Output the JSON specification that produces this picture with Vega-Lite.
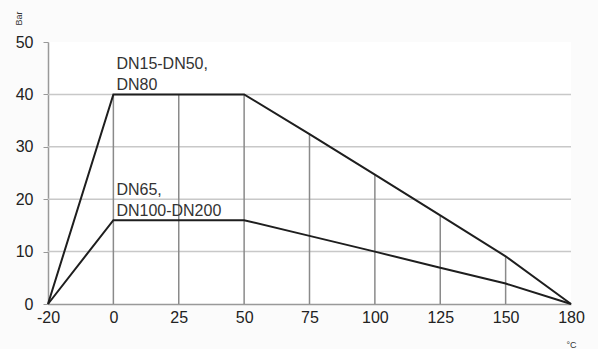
{
  "$schema": "https://vega.github.io/schema/vega-lite/v6.json",
  "width": 523,
  "height": 262,
  "autosize": "none",
  "padding": {"left": 48, "top": 42, "right": 27, "bottom": 45},
  "background": "#fbfbfb",
  "config": {
    "view": {"fill": "white", "stroke": null},
    "font": "Liberation Sans",
    "text": {"font": "Liberation Sans"}
  },
  "datasets": {
    "curves": [
      {"series": "DN15-DN50, DN80", "t": -20, "p": 0},
      {"series": "DN15-DN50, DN80", "t": 0, "p": 40},
      {"series": "DN15-DN50, DN80", "t": 25, "p": 40},
      {"series": "DN15-DN50, DN80", "t": 50, "p": 40},
      {"series": "DN15-DN50, DN80", "t": 75, "p": 32.4},
      {"series": "DN15-DN50, DN80", "t": 100, "p": 24.7},
      {"series": "DN15-DN50, DN80", "t": 125, "p": 16.9},
      {"series": "DN15-DN50, DN80", "t": 150, "p": 9.1},
      {"series": "DN15-DN50, DN80", "t": 180, "p": 0},
      {"series": "DN65, DN100-DN200", "t": -20, "p": 0},
      {"series": "DN65, DN100-DN200", "t": 0, "p": 16},
      {"series": "DN65, DN100-DN200", "t": 25, "p": 16},
      {"series": "DN65, DN100-DN200", "t": 50, "p": 16},
      {"series": "DN65, DN100-DN200", "t": 75, "p": 13},
      {"series": "DN65, DN100-DN200", "t": 100, "p": 10},
      {"series": "DN65, DN100-DN200", "t": 125, "p": 6.9},
      {"series": "DN65, DN100-DN200", "t": 150, "p": 3.9},
      {"series": "DN65, DN100-DN200", "t": 180, "p": 0}
    ],
    "labels": [
      {"t": 0, "p": 40, "label": "DN15-DN50,\nDN80"},
      {"t": 0, "p": 16, "label": "DN65,\nDN100-DN200"}
    ],
    "hgrid": [{"g": 10}, {"g": 20}, {"g": 30}, {"g": 40}]
  },
  "layer": [
    {
      "data": {"name": "hgrid"},
      "mark": {"type": "rule", "color": "#c8c8c8", "strokeWidth": 1.5},
      "encoding": {
        "y": {"field": "g", "type": "quantitative"}
      }
    },
    {
      "data": {"name": "curves"},
      "transform": [
        {"filter": "datum.series == 'DN15-DN50, DN80' && datum.t >= 0 && datum.t <= 150"}
      ],
      "mark": {"type": "rule", "color": "#8a8a8a", "strokeWidth": 1.5},
      "encoding": {
        "x": {"field": "t", "type": "ordinal"},
        "y": {"field": "p", "type": "quantitative"},
        "y2": {"datum": 0}
      }
    },
    {
      "data": {"name": "curves"},
      "mark": {"type": "line", "color": "#1e1e1e", "strokeWidth": 2},
      "encoding": {
        "x": {
          "field": "t",
          "type": "ordinal",
          "scale": {"type": "point", "padding": 0, "domain": [-20, 0, 25, 50, 75, 100, 125, 150, 180]},
          "axis": {
            "title": "°C",
            "titleFontSize": 9,
            "titleFontWeight": "normal",
            "titleColor": "#333",
            "titleX": 523,
            "titleY": 40,
            "titleBaseline": "middle",
            "titleAlign": "center",
            "labelAngle": 0,
            "labelAlign": "center",
            "labelFontSize": 16,
            "labelColor": "#222",
            "labelPadding": 13,
            "ticks": false,
            "domainColor": "#999",
            "domainWidth": 1.5,
            "grid": false
          }
        },
        "y": {
          "field": "p",
          "type": "quantitative",
          "scale": {"domain": [0, 50], "nice": false},
          "axis": {
            "values": [0, 10, 20, 30, 40, 50],
            "title": "Bar",
            "titleFontSize": 9,
            "titleFontWeight": "normal",
            "titleColor": "#333",
            "titleAngle": 270,
            "titleX": -30,
            "titleY": -24,
            "titleAlign": "center",
            "titleBaseline": "middle",
            "labelFontSize": 16,
            "labelColor": "#222",
            "labelPadding": 10,
            "tickSize": 5,
            "tickColor": "#999",
            "domainColor": "#999",
            "domainWidth": 1.5,
            "grid": false
          }
        },
        "detail": {"field": "series"}
      }
    },
    {
      "data": {"name": "labels"},
      "mark": {
        "type": "text",
        "align": "left",
        "baseline": "alphabetic",
        "dx": 3,
        "dy": -25,
        "fontSize": 16,
        "lineHeight": 21,
        "lineBreak": "\n",
        "color": "#333"
      },
      "encoding": {
        "x": {"field": "t", "type": "ordinal"},
        "y": {"field": "p", "type": "quantitative"},
        "text": {"field": "label"}
      }
    }
  ]
}
